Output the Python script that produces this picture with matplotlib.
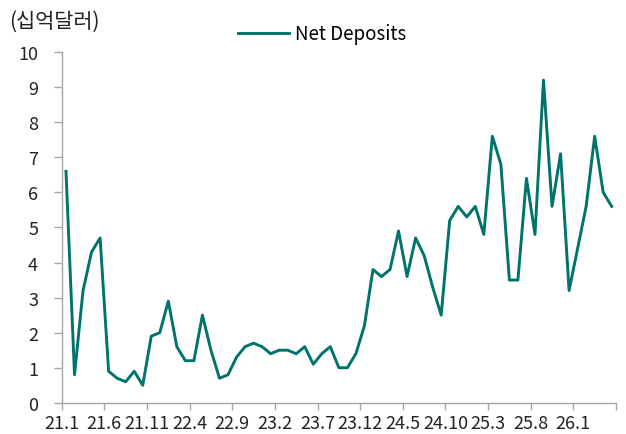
import matplotlib
matplotlib.use("Agg")
import matplotlib.pyplot as plt
import numpy as np

plt.rcParams['font.family'] = ['Noto Sans CJK KR', 'DejaVu Sans']

# monthly net deposits, 21.1 ~ 26.5 (billion USD)
net_deposits = [6.6, 0.8, 3.2, 4.3, 4.7, 0.9, 0.7, 0.6, 0.9, 0.5,
                1.9, 2.0, 2.9, 1.6, 1.2, 1.2, 2.5, 1.5, 0.7, 0.8,
                1.3, 1.6, 1.7, 1.6, 1.4, 1.5, 1.5, 1.4, 1.6, 1.1,
                1.4, 1.6, 1.0, 1.0, 1.4, 2.2, 3.8, 3.6, 3.8, 4.9,
                3.6, 4.7, 4.2, 3.3, 2.5, 5.2, 5.6, 5.3, 5.6, 4.8,
                7.6, 6.8, 3.5, 3.5, 6.4, 4.8, 9.2, 5.6, 7.1, 3.2,
                4.4, 5.6, 7.6, 6.0, 5.6]
tick_labels = ["21.1", "21.6", "21.11", "22.4", "22.9", "23.2", "23.7",
               "23.12", "24.5", "24.10", "25.3", "25.8", "26.1", ""]

x = np.arange(len(net_deposits))

fig = plt.figure(figsize=(6.26, 4.35), dpi=100)
ax = fig.add_axes([0.0986, 0.0717, 0.8854, 0.8063])

ax.plot(x, net_deposits, color="#00736A", lw=2.1, label="Net Deposits")

ax.set_xlim(-0.5, len(net_deposits) - 0.5)
ax.set_ylim(0, 10)
ax.set_yticks(range(0, 11))
ax.set_xticks(np.arange(len(tick_labels)) * 5 - 0.5)
ax.set_xticklabels(tick_labels)

for s in ["top", "right"]:
    ax.spines[s].set_visible(False)
for s in ["left", "bottom"]:
    ax.spines[s].set_color("#A6A6A6")
    ax.spines[s].set_linewidth(1.0)

ax.tick_params(axis="y", length=6, width=1, color="#A6A6A6", pad=11,
               labelsize=13, labelcolor="#222222")
ax.tick_params(axis="x", length=5, width=1, color="#A6A6A6", pad=3,
               labelsize=13, labelcolor="#222222")

ax.legend(loc="upper center", bbox_to_anchor=(0.47, 1.13), frameon=False,
          fontsize=13.5, handlelength=2.7, handletextpad=0.35)

fig.text(0.014, 0.976, "(십억달러)", fontsize=15, color="#222222",
         ha="left", va="top")

fig.savefig("out.png", dpi=100)
